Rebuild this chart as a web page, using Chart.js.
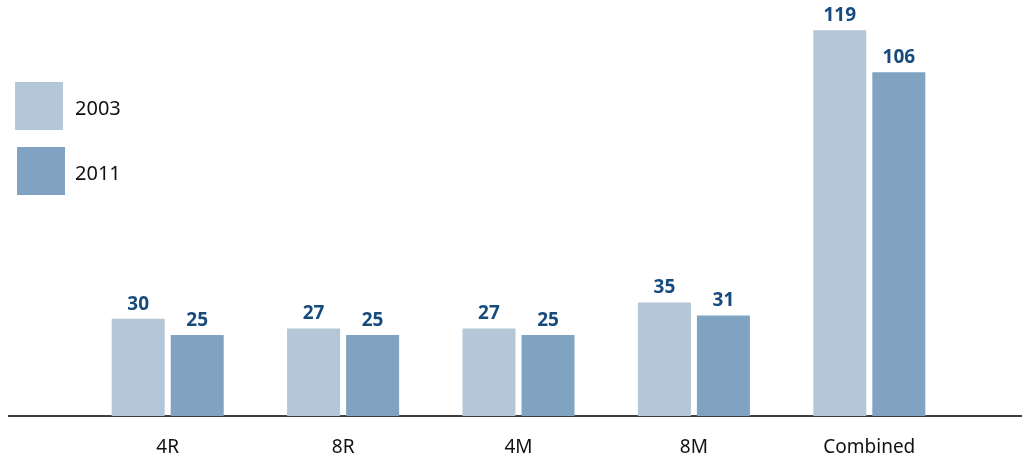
<!DOCTYPE html>
<html>
<head>
<meta charset="utf-8">
<script src="https://cdn.jsdelivr.net/npm/chart.js@4"></script>
<style>
  html, body { margin: 0; padding: 0; background: #fff; }
  #wrap { width: 1026px; height: 458px; position: relative; }
</style>
</head>
<body>
<div id="wrap"><canvas id="chart"></canvas></div>
<script>
// data
const categories = ['4R', '8R', '4M', '8M', 'Combined'];
const seriesNames = ['2003', '2011'];
const values2003 = [30, 27, 27, 35, 119];
const values2011 = [25, 25, 25, 31, 106];
const barColors = ['#b3c7d8', '#7fa3c0'];

const FONT = '"Noto Sans", "Open Sans", sans-serif';

// baseline across the whole width
const baseLine = {
  id: 'baseLine',
  beforeDatasetsDraw(chart) {
    const ctx = chart.ctx;
    const y = chart.scales.y.getPixelForValue(0);
    ctx.save();
    ctx.strokeStyle = '#000';
    ctx.lineWidth = 1.5;
    ctx.beginPath();
    ctx.moveTo(8, y);
    ctx.lineTo(1022, y);
    ctx.stroke();
    ctx.restore();
  }
};

// value labels above bars
const valueLabels = {
  id: 'valueLabels',
  afterDatasetsDraw(chart) {
    const ctx = chart.ctx;
    ctx.save();
    ctx.fillStyle = '#174b7e';
    ctx.font = 'bold 19px ' + FONT;
    ctx.textAlign = 'center';
    ctx.textBaseline = 'bottom';
    chart.data.datasets.forEach((ds, i) => {
      chart.getDatasetMeta(i).data.forEach((bar, j) => {
        ctx.fillText(ds.data[j], bar.x, bar.y - 5);
      });
    });
    ctx.restore();
  }
};

// legend boxes on the left
const sideLegend = {
  id: 'sideLegend',
  afterDraw(chart) {
    const ctx = chart.ctx;
    const spots = [{ x: 15, y: 82 }, { x: 17, y: 147 }];
    ctx.save();
    ctx.font = '20px ' + FONT;
    ctx.textBaseline = 'middle';
    chart.data.datasets.forEach((ds, i) => {
      const p = spots[i];
      ctx.fillStyle = ds.backgroundColor;
      ctx.fillRect(p.x, p.y, 48, 48);
      ctx.fillStyle = '#111';
      ctx.fillText(ds.label, 75, p.y + 27);
    });
    ctx.restore();
  }
};

new Chart(document.getElementById('chart'), {
  type: 'bar',
  data: {
    labels: categories,
    datasets: [
      { label: seriesNames[0], data: values2003, backgroundColor: barColors[0] },
      { label: seriesNames[1], data: values2011, backgroundColor: barColors[1] }
    ]
  },
  options: {
    responsive: true,
    maintainAspectRatio: false,
    animation: false,
    categoryPercentage: 0.673,
    barPercentage: 0.898,
    layout: { padding: { left: 80, right: 69, top: 1, bottom: 0 } },
    plugins: {
      legend: { display: false },
      tooltip: { enabled: false }
    },
    scales: {
      x: {
        grid: { display: false, drawTicks: false },
        border: { display: false },
        ticks: {
          color: '#111',
          padding: 20,
          font: { family: FONT, size: 19 }
        },
        afterFit(scale) {
          scale.height = 42;
        }
      },
      y: {
        display: false,
        min: 0,
        max: 128
      }
    }
  },
  plugins: [baseLine, valueLabels, sideLegend]
});
</script>
</body>
</html>
